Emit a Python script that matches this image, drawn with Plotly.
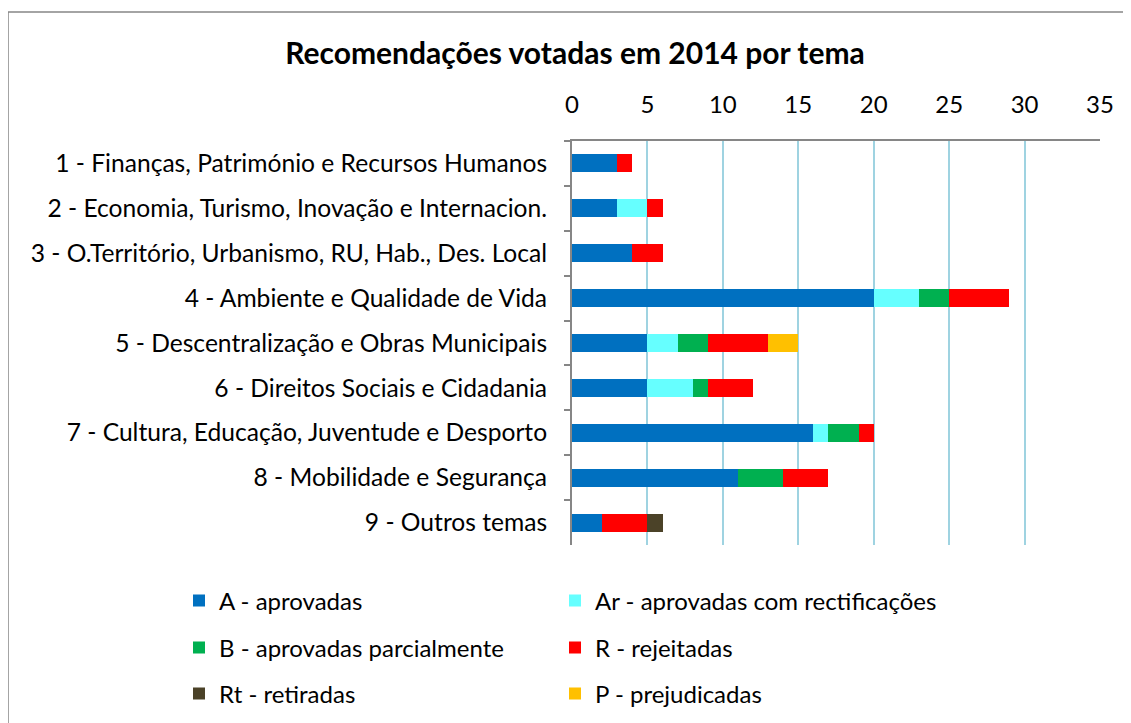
import plotly.graph_objects as go

categories = [
    "1 - Finanças, Património e Recursos Humanos",
    "2 - Economia, Turismo, Inovação e Internacion.",
    "3 - O.Território, Urbanismo, RU, Hab., Des. Local",
    "4 - Ambiente e Qualidade de Vida",
    "5 - Descentralização e Obras Municipais",
    "6 - Direitos Sociais e Cidadania",
    "7 - Cultura, Educação, Juventude e Desporto",
    "8 - Mobilidade e Segurança",
    "9 - Outros temas",
]
A_aprovadas = [3, 3, 4, 20, 5, 5, 16, 11, 2]
Ar_rectificacoes = [0, 2, 0, 3, 2, 3, 1, 0, 0]
B_parcialmente = [0, 0, 0, 2, 2, 1, 2, 3, 0]
R_rejeitadas = [1, 1, 2, 4, 4, 3, 1, 3, 3]
Rt_retiradas = [0, 0, 0, 0, 0, 0, 0, 0, 1]
P_prejudicadas = [0, 0, 0, 0, 2, 0, 0, 0, 0]

series_names = ["A - aprovadas", "Ar - aprovadas com rectificações",
                "B - aprovadas parcialmente", "R - rejeitadas",
                "Rt - retiradas", "P - prejudicadas"]
series_values = [A_aprovadas, Ar_rectificacoes, B_parcialmente, R_rejeitadas,
                 Rt_retiradas, P_prejudicadas]
series_colors = ["#0070C0", "#66FFFF", "#00B050", "#FF0000", "#4B4228", "#FFC000"]

FONT = "Lato"

# The page body has an 8px margin, so figure coords = screen coords - 8
OFF = 8
W, H = 1131 - OFF, 723 - OFF
L, R, T, B = 572 - OFF, 1100 - OFF, 141 - OFF, 545 - OFF
pw, ph = R - L, B - T

def px_x(p):
    return (p - OFF - L) / pw

def px_y(p):
    return (B - (p - OFF)) / ph

leg_names = ["legend", "legend2", "legend3", "legend4", "legend5", "legend6"]
leg_cols = [179, 555]
leg_rows = [601, 648, 694]

fig = go.Figure()
legends = {}
for i, (name, vals, color) in enumerate(zip(series_names, series_values, series_colors)):
    lg = leg_names[i]
    fig.add_trace(go.Bar(
        y=categories, x=vals, name=name, orientation="h",
        marker=dict(color=color, line=dict(width=0)),
        width=0.4, legend=lg, showlegend=True,
    ))
    legends[lg] = dict(
        x=px_x(leg_cols[i % 2]), y=px_y(leg_rows[i // 2]),
        orientation="v", xanchor="left", yanchor="middle", visible=True,
        bgcolor="rgba(0,0,0,0)", itemclick=False, itemdoubleclick=False,
        font=dict(family=FONT, size=24, color="#000000"),
    )

fig.update_layout(
    width=W, height=H,
    showlegend=True,
    barmode="stack",
    paper_bgcolor="white", plot_bgcolor="white",
    margin=dict(l=L, r=W - R, t=T, b=H - B, pad=0, autoexpand=False),
    title=dict(text="<b>Recomendações votadas em 2014 por tema</b>",
               x=px_x(575), xref="paper", xanchor="center",
               y=1 - (53 - OFF) / H, yanchor="middle",
               font=dict(family=FONT, size=30, color="#000000")),
    font=dict(family=FONT, size=24, color="#000000"),
    xaxis=dict(side="top", range=[0, 35], tickvals=[0, 5, 10, 15, 20, 25, 30, 35],
               showgrid=True, gridcolor="#9FD3E1", gridwidth=2,
               showline=True, linecolor="#868686", linewidth=2,
               ticks="", ticklabelstandoff=16, zeroline=False, automargin=False,
               tickfont=dict(family=FONT, size=24, color="#000000")),
    yaxis=dict(autorange="reversed", showline=True, linecolor="#868686", linewidth=2,
               ticks="outside", tickson="boundaries", ticklen=6, tickcolor="#868686",
               tickwidth=2, ticklabelstandoff=18, showgrid=False, automargin=False,
               tickfont=dict(family=FONT, size=24.6, color="#000000")),
    shapes=[dict(type="rect", xref="paper", yref="paper",
                 x0=px_x(8), x1=px_x(1145), y0=px_y(740), y1=px_y(12),
                 line=dict(color="#868686", width=1.5), fillcolor="rgba(0,0,0,0)",
                 layer="below")],
    **legends,
)

fig.write_html("out.html")
